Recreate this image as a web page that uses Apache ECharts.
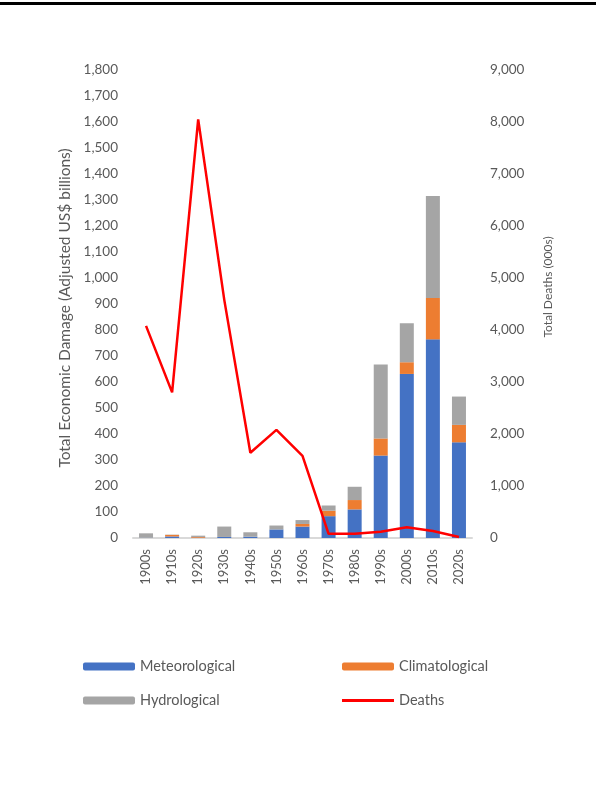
<!DOCTYPE html>
<html>
<head>
<meta charset="utf-8">
<script src="https://cdn.jsdelivr.net/npm/echarts@6/dist/echarts.min.js"></script>
<style>
  html, body { margin: 0; padding: 0; background: #fff; }
  #chart { width: 596px; height: 794px; }
</style>
</head>
<body>
<div id="chart"></div>
<script>
const decades = ['1900s', '1910s', '1920s', '1930s', '1940s', '1950s', '1960s', '1970s', '1980s', '1990s', '2000s', '2010s', '2020s'];
// damage, adjusted US$ billions
const meteorological = [1, 6, 1, 4, 5, 33, 44, 84, 110, 317, 631, 764, 368];
const climatological = [0, 6, 3, 0, 0, 0, 10, 21, 36, 66, 45, 159, 67];
const hydrological = [17, 1, 5, 40, 17, 15, 15, 20, 51, 284, 150, 392, 109];
// deaths, thousands
const deaths = [4080, 2800, 8050, 4580, 1640, 2080, 1580, 80, 80, 120, 205, 135, 20];

const textColor = '#595959';
const fontFamily = 'Lato, "Open Sans", sans-serif';
const fmt = v => v.toLocaleString('en-US');

const chart = echarts.init(document.getElementById('chart'));

// one legend per item so the 2x2 layout can be placed exactly
const legendItem = (name, left, top, extra) => Object.assign({
    data: [name],
    left: left,
    top: top,
    padding: 0,
    itemWidth: 52,
    itemHeight: 8,
    selectedMode: false,
    textStyle: { color: textColor, fontSize: 14.5, fontFamily: fontFamily }
}, extra || {});

const barSeries = (name, data, color) => ({
    name: name,
    type: 'bar',
    stack: 'damage',
    data: data,
    barWidth: 14,
    itemStyle: { color: color },
    emphasis: { disabled: true }
});

chart.setOption({
    animation: false,
    textStyle: { fontFamily: fontFamily },
    graphic: [{
        type: 'rect',
        shape: { x: 0, y: 2, width: 596, height: 3 },
        style: { fill: '#000' }
    }],
    legend: [
        legendItem('Meteorological', 83, 659),
        legendItem('Climatological', 342, 659),
        legendItem('Hydrological', 83, 693),
        legendItem('Deaths', 342, 693, { itemHeight: 3, icon: 'rect' })
    ],
    grid: { left: 133, right: 124, top: 70, bottom: 256 },
    xAxis: {
        type: 'category',
        data: decades,
        axisLine: { lineStyle: { color: '#D9D9D9', width: 2 } },
        axisTick: { show: false },
        axisLabel: { rotate: 90, color: textColor, fontSize: 13, margin: 11 }
    },
    yAxis: [
        {
            type: 'value',
            min: 0,
            max: 1800,
            interval: 100,
            name: 'Total Economic Damage (Adjusted US$ billions)',
            nameLocation: 'middle',
            nameGap: 60,
            nameTextStyle: { color: textColor, fontSize: 15.5, padding: [0, 8, 0, 0] },
            axisLine: { show: false },
            axisTick: { show: false },
            splitLine: { show: false },
            axisLabel: { color: textColor, fontSize: 13.5, margin: 15, formatter: fmt }
        },
        {
            type: 'value',
            min: 0,
            max: 9000,
            interval: 1000,
            name: 'Total Deaths (000s)',
            nameLocation: 'middle',
            nameGap: 70,
            nameTextStyle: { color: textColor, fontSize: 12, padding: [0, 0, 0, 34] },
            axisLine: { show: false },
            axisTick: { show: false },
            splitLine: { show: false },
            axisLabel: { color: textColor, fontSize: 13.5, margin: 18, formatter: fmt }
        }
    ],
    series: [
        barSeries('Meteorological', meteorological, '#4472C4'),
        barSeries('Climatological', climatological, '#ED7D31'),
        barSeries('Hydrological', hydrological, '#A5A5A5'),
        {
            name: 'Deaths',
            type: 'line',
            yAxisIndex: 1,
            data: deaths,
            symbol: 'none',
            lineStyle: { color: '#FF0000', width: 2.5 },
            itemStyle: { color: '#FF0000' },
            emphasis: { disabled: true }
        }
    ]
});
</script>
</body>
</html>
